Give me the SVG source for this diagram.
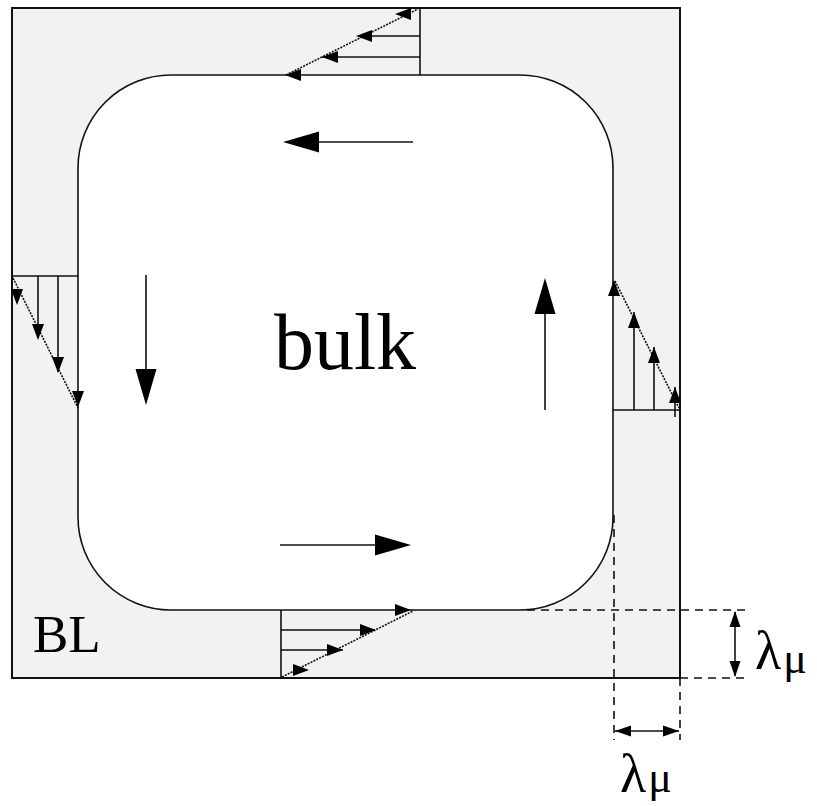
<svg xmlns="http://www.w3.org/2000/svg" xmlns:xlink="http://www.w3.org/1999/xlink" width="817" height="806" viewBox="0 0 817 806">
<style>
.ln{stroke:#111;stroke-width:1.6;fill:none}
.dot{stroke:#111;stroke-width:1.6;fill:none;stroke-dasharray:2 1.2}
.dash{stroke:#111;stroke-width:1.6;fill:none;stroke-dasharray:8 6}
.ah{fill:#000}
.txt{font-family:"Liberation Serif","Times New Roman",serif;fill:#000}
</style>
<defs>
<path id="sa" d="M0,0 L-16,-6 L-16,6 Z"/>
<path id="ba" d="M0,0 L-36,-10.5 L-36,10.5 Z"/>
<path id="da" d="M0,0 L-16,-5.5 L-16,5.5 Z"/>
</defs>
<rect width="817" height="806" fill="#fff"/>
<g id="outer-box">
<rect x="12" y="8" width="668" height="670" fill="#f2f2f2" stroke="#111" stroke-width="2"/>
</g>
<g id="bulk">
<rect x="78" y="75" width="535" height="535" rx="93" ry="93" fill="#fff" stroke="#111" stroke-width="1.6"/>
<text class="txt" x="345" y="369" font-size="80" text-anchor="middle">bulk</text>
</g>
<g id="bl-label">
<text class="txt" x="33" y="652" font-size="53">BL</text>
</g>
<g id="profile-top">
<line class="ln" x1="420" y1="8" x2="420" y2="75"/>
<line class="ln" x1="364" y1="36" x2="420" y2="36"/>
<line class="ln" x1="322" y1="57" x2="420" y2="57"/>
<line class="dot" x1="286" y1="75" x2="418" y2="9"/>
<use href="#sa" class="ah" transform="translate(395,14) rotate(180)"/>
<use href="#sa" class="ah" transform="translate(356,36) rotate(180)"/>
<use href="#sa" class="ah" transform="translate(322,57) rotate(180)"/>
<use href="#sa" class="ah" transform="translate(285,75) rotate(180)"/>
</g>
<g id="profile-left">
<line class="ln" x1="12" y1="276" x2="78" y2="276"/>
<line class="ln" x1="38" y1="276" x2="38" y2="338"/>
<line class="ln" x1="58" y1="276" x2="58" y2="372"/>
<line class="dot" x1="13" y1="278" x2="78" y2="408"/>
<use href="#sa" class="ah" transform="translate(17,305) rotate(90)"/>
<use href="#sa" class="ah" transform="translate(38,340) rotate(90)"/>
<use href="#sa" class="ah" transform="translate(58,373) rotate(90)"/>
<use href="#sa" class="ah" transform="translate(78,407) rotate(90)"/>
</g>
<g id="profile-right">
<line class="ln" x1="613" y1="410" x2="680" y2="410"/>
<line class="ln" x1="634" y1="410" x2="634" y2="312"/>
<line class="ln" x1="654" y1="410" x2="654" y2="347"/>
<line class="ln" x1="675" y1="417" x2="675" y2="387"/>
<line class="dot" x1="615" y1="281" x2="679" y2="408"/>
<use href="#sa" class="ah" transform="translate(614,280) rotate(-90)"/>
<use href="#sa" class="ah" transform="translate(634,312) rotate(-90)"/>
<use href="#sa" class="ah" transform="translate(654,347) rotate(-90)"/>
<use href="#sa" class="ah" transform="translate(675,387) rotate(-90)"/>
</g>
<g id="profile-bottom">
<line class="ln" x1="281" y1="610" x2="281" y2="678"/>
<line class="ln" x1="281" y1="630" x2="375" y2="630"/>
<line class="ln" x1="281" y1="650" x2="343" y2="650"/>
<line class="dot" x1="282" y1="677" x2="413" y2="611"/>
<use href="#sa" class="ah" transform="translate(411,610)"/>
<use href="#sa" class="ah" transform="translate(376,630)"/>
<use href="#sa" class="ah" transform="translate(343,650)"/>
<use href="#sa" class="ah" transform="translate(309,670)"/>
</g>
<g id="connectors">
<line class="ln" x1="413" y1="142" x2="300" y2="142"/>
<use href="#ba" class="ah" transform="translate(283,142) rotate(180)"/>
<line class="ln" x1="146" y1="275" x2="146" y2="385"/>
<use href="#ba" class="ah" transform="translate(146,405) rotate(90)"/>
<line class="ln" x1="545" y1="410" x2="545" y2="300"/>
<use href="#ba" class="ah" transform="translate(545,278) rotate(-90)"/>
<line class="ln" x1="280" y1="545" x2="390" y2="545"/>
<use href="#ba" class="ah" transform="translate(411,545)"/>
</g>
<g id="dimensions">
<line class="dash" x1="527" y1="610" x2="745" y2="610"/>
<line class="dash" x1="680" y1="678" x2="745" y2="678"/>
<line class="dash" x1="614" y1="515" x2="614" y2="740"/>
<line class="dash" x1="680" y1="678" x2="680" y2="740"/>
<line class="ln" x1="735" y1="612" x2="735" y2="676"/>
<use href="#da" class="ah" transform="translate(735,611) rotate(-90)"/>
<use href="#da" class="ah" transform="translate(735,677) rotate(90)"/>
<line class="ln" x1="615" y1="731" x2="679" y2="731"/>
<use href="#da" class="ah" transform="translate(615,731) rotate(180)"/>
<use href="#da" class="ah" transform="translate(679,731)"/>
<text class="txt" x="755" y="669" font-size="54">λ<tspan font-size="44" dx="2" dy="4">μ</tspan></text>
<text class="txt" x="620" y="792" font-size="54">λ<tspan font-size="44" dx="2" dy="0">μ</tspan></text>
</g>
</svg>
